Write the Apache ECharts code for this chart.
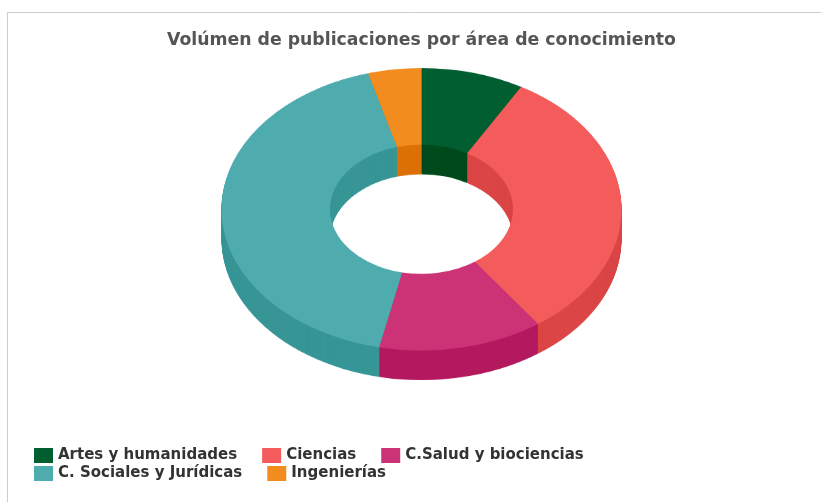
<!DOCTYPE html>
<html>
<head>
<meta charset="utf-8">
<script src="https://cdn.jsdelivr.net/npm/echarts@6/dist/echarts.min.js"></script>
<style>
  body { margin: 0; background: #fff; }
  #wrap { position: relative; width: 821px; height: 502px; }
  #marco { position: absolute; left: 0; top: 0; width: 821px; height: 502px; }
  /* the donut is drawn as a circle and squashed vertically to look 3D */
  #dona { position: absolute; left: 0; top: 61.2px; width: 821px; height: 460px;
          transform: scaleY(0.706); transform-origin: 0 0; }
</style>
</head>
<body>
<div id="wrap">
  <div id="marco"></div>
  <div id="dona"></div>
</div>
<script>
const titulo = 'Volúmen de publicaciones por área de conocimiento';
const categorias = ['Artes y humanidades', 'Ciencias', 'C.Salud y biociencias', 'C. Sociales y Jurídicas', 'Ingenierías'];
const valores = [83, 318, 133, 423, 43];
const coloresCara = ['#005e30', '#f45b5b', '#cc3377', '#4eacaf', '#f28c1e'];
const coloresLado = ['#004a1c', '#db4545', '#b4195f', '#379596', '#dc7107'];

const FONT = 'DejaVu Sans';
const PROFUNDIDAD = 42;   // extrusion layers (px before squashing)

const datos = (colores) => categorias.map((c, i) => ({
  name: c, value: valores[i], itemStyle: { color: colores[i] }
}));

// ---- title, legend and frame ----
var marco = echarts.init(document.getElementById('marco'), null, { width: 821, height: 502 });
var legendaBase = {
  left: 34,
  padding: 0,
  itemWidth: 19,
  itemHeight: 15,
  itemGap: 25,
  icon: 'rect',
  textStyle: { color: '#333', fontSize: 15, fontWeight: 'bold', fontFamily: FONT }
};
marco.setOption({
  animation: false,
  title: {
    text: titulo,
    left: 167,
    top: 32,
    padding: 0,
    textStyle: { color: '#555', fontSize: 17.3, fontWeight: 'bold', fontFamily: FONT }
  },
  legend: [
    Object.assign({}, legendaBase, { top: 448, data: categorias.slice(0, 3) }),
    Object.assign({}, legendaBase, { top: 466, data: categorias.slice(3) })
  ],
  graphic: [{
    type: 'rect',
    shape: { x: 7.5, y: 12.5, width: 900, height: 600 },
    style: { fill: 'none', stroke: '#cccccc', lineWidth: 1 },
    silent: true
  }],
  series: [{
    type: 'pie',
    radius: [0, 0],
    silent: true,
    label: { show: false },
    labelLine: { show: false },
    data: datos(coloresCara)
  }]
});

// ---- donut with extruded sides ----
var dona = echarts.init(document.getElementById('dona'), null, { width: 821, height: 460 });
var series = [];
for (let k = PROFUNDIDAD; k >= 0; k--) {
  series.push({
    type: 'pie',
    z: PROFUNDIDAD - k + 1,
    center: [421.5, 210 + k],
    radius: [91.5, 200],
    startAngle: 90,
    silent: true,
    label: { show: false },
    labelLine: { show: false },
    itemStyle: { borderWidth: 0 },
    emphasis: { disabled: true },
    data: datos(k === 0 ? coloresCara : coloresLado)
  });
}
dona.setOption({ animation: false, series: series });
</script>
</body>
</html>
